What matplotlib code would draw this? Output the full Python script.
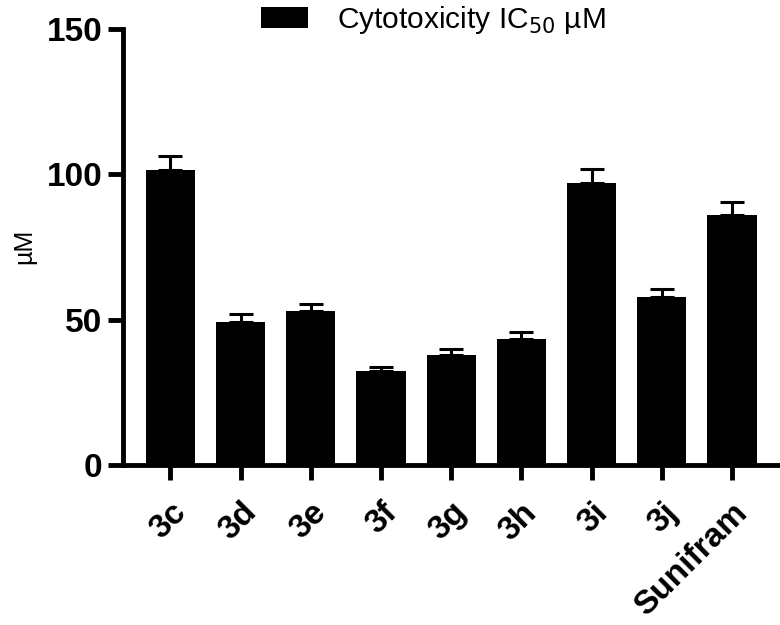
import numpy as np
import matplotlib
matplotlib.use('Agg')
import matplotlib.pyplot as plt
import matplotlib.transforms as mtransforms

plt.rcParams['font.family'] = ['Liberation Sans', 'DejaVu Sans']

compounds = ['3c', '3d', '3e', '3f', '3g', '3h', '3i', '3j', 'Sunifram']
ic50 = [101.3, 49.3, 53.1, 32.4, 37.9, 43.4, 97.0, 57.9, 86.0]
err = [5.1, 2.6, 2.3, 1.3, 1.9, 2.3, 4.7, 2.6, 4.3]

fig = plt.figure(figsize=(7.8, 6.25), dpi=100)
ax = fig.add_axes([0.158, 0.256, 0.839, 0.698])

x = np.arange(len(compounds))
ax.bar(x, ic50, width=0.7, color='black', label='Cytotoxicity IC$_{50}$ µM')
ax.errorbar(x, ic50, yerr=[np.zeros(len(err)), err], fmt='none', ecolor='black',
            elinewidth=2.2, capsize=8.5, capthick=2.2)

ax.set_xlim(-0.67, 8.65)
ax.set_ylim(0, 150)
ax.set_yticks([0, 50, 100, 150])
ax.set_xticks(x)
ax.set_xticklabels(compounds, rotation=45, ha='right', rotation_mode='anchor',
                   fontsize=24, fontweight='bold')
# nudge rotated labels a little to the left
shift = mtransforms.ScaledTranslation(-5 / 72, 0, fig.dpi_scale_trans)
for lab in ax.get_xticklabels():
    lab.set_transform(lab.get_transform() + shift)
for lab in ax.get_yticklabels():
    lab.set_fontsize(24)
    lab.set_fontweight('bold')

ax.spines['top'].set_visible(False)
ax.spines['right'].set_visible(False)
ax.spines['left'].set_linewidth(3.5)
ax.spines['bottom'].set_linewidth(3.5)
ax.tick_params(axis='both', width=3.5, length=11, color='black')
ax.tick_params(axis='y', pad=4)
ax.tick_params(axis='x', pad=12)
ax.set_ylabel('µM', fontsize=18)
ax.yaxis.set_label_coords(-0.133, 0.5)

ax.legend(loc='center', bbox_to_anchor=(0.474, 1.02), frameon=False, borderpad=0,
          fontsize=21.5, handlelength=1.55, handleheight=0.66, handletextpad=0.97)

fig.savefig('out.png', dpi=100)
